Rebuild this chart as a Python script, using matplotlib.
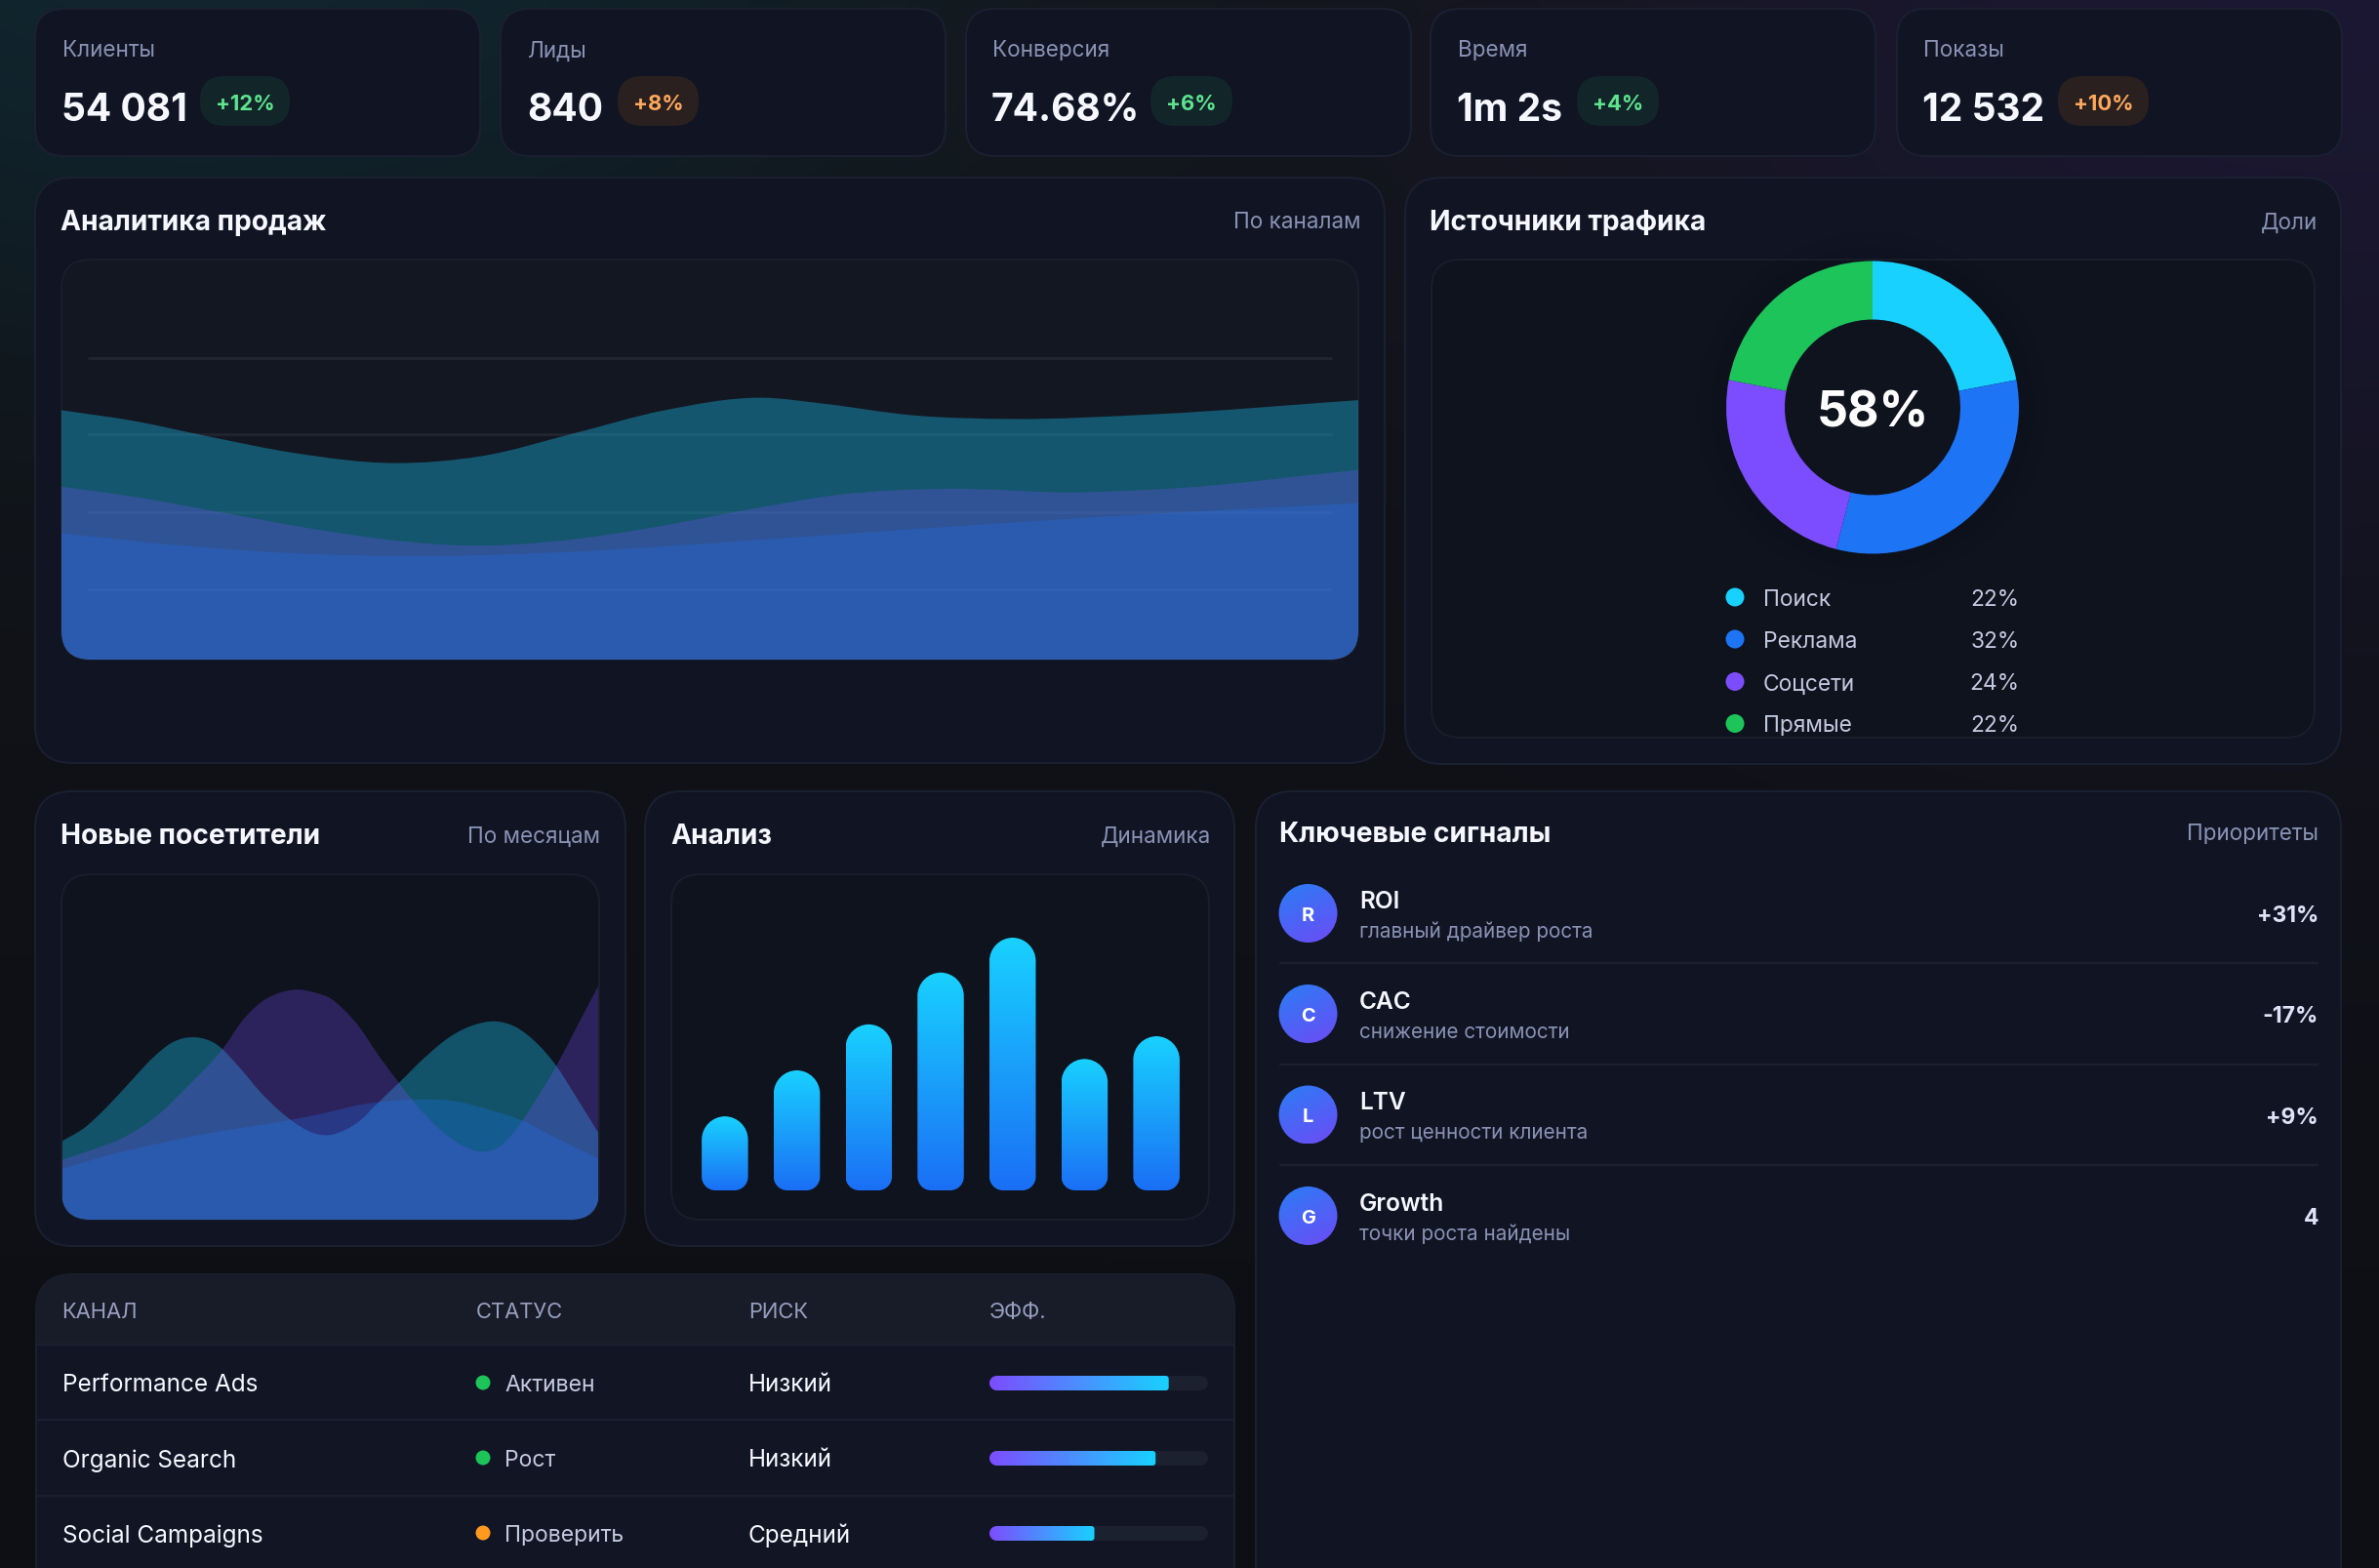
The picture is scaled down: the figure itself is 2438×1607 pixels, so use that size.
import numpy as np
import matplotlib
matplotlib.use("Agg")
import matplotlib.pyplot as plt
from matplotlib.colors import to_rgb
from matplotlib.patches import FancyBboxPatch, PathPatch, Circle
from matplotlib.path import Path

W, H = 2438, 1608

plt.rcParams["font.family"] = ["Inter", "Roboto", "DejaVu Sans"]

TEAL = "#18d1ff"
BLUE = "#1d74f5"
PURPLE = "#7c4dff"
GREEN = "#1cc45a"
ORANGE = "#ff9a1f"
CARD = "#101423"
BORDER = "#1b2031"
WHITE = "#f6f7ff"
MUTED = "#8a92b4"
SOFT = "#c3c9df"

# kpi row
kpi_labels = ["Клиенты", "Лиды", "Конверсия", "Время", "Показы"]
kpi_values = ["54 081", "840", "74.68%", "1m 2s", "12 532"]
kpi_deltas = ["+12%", "+8%", "+6%", "+4%", "+10%"]
kpi_delta_good = [True, False, True, True, False]

# sales chart, percent of plot width / height
sales_x_teal = [0, 5.6, 11.1, 18, 25.6, 32.5, 39.5, 46.4, 54, 58.8, 65.7, 73.3, 84.4, 100]
sales_teal = [62.2, 59.5, 55.8, 51.5, 49, 50.8, 56.4, 62.1, 65.3, 63.8, 60.9, 60, 61.2, 64.7]
sales_x_purple = [0, 5.6, 12.5, 19.4, 26.3, 31.8, 38.1, 45, 52.6, 60.2, 67.8, 78.2, 85.8, 100]
sales_purple = [43.1, 40.6, 36.6, 32.6, 29.5, 28.4, 29.5, 32.6, 37.2, 41.2, 42.6, 41.7, 42.7, 47.3]
sales_x_blue = [0, 9, 19.4, 28.4, 38.1, 54, 67.8, 85, 100]
sales_blue = [31.5, 28.5, 26.3, 25.8, 26.7, 29.9, 33, 36.5, 39]
sales_grid = [75.3, 56.1, 36.8, 17.6]

# traffic donut
traffic_labels = ["Поиск", "Реклама", "Соцсети", "Прямые"]
traffic_shares = [22, 32, 24, 22]
traffic_colors = [TEAL, BLUE, PURPLE, GREEN]

# new visitors chart
vis_x_teal = [0, 4.1, 8.4, 12.6, 16.9, 20.5, 24.8, 28.4, 33.3, 36.9, 40.6, 43.3, 46.6, 49.8, 52.4, 55.4,
              58.5, 62.8, 67.6, 72.4, 76.7, 80.9, 84.6, 88.2, 92.2, 95.5, 100]
vis_teal = [22.8, 26.6, 32.8, 39.8, 46.9, 51.3, 52.8, 51.1, 43.6, 37, 31.4, 28.1, 25.2, 24.5, 25.7, 28.5,
            33.2, 39.6, 46.9, 53, 56.3, 57.4, 55.8, 51.6, 44.5, 36.5, 25.2]
vis_x_purple = [0, 5.3, 11.4, 17.5, 23.6, 29.9, 33.9, 37.5, 40.6, 43.9, 47.2, 50.3, 52.4, 55.4, 58.5, 62.8,
                69.4, 73.6, 77.9, 81.5, 85.8, 88.8, 92.2, 96.1, 100]
vis_purple = [17.4, 20.1, 23.8, 29.9, 38.9, 49.4, 58.2, 63.4, 65.7, 66.6, 65.7, 63.8, 61, 55.8, 48.7, 39.6,
              27.6, 22.4, 19.7, 21, 28.5, 35.8, 44.5, 56.1, 67.6]
vis_x_blue = [0, 8.4, 17.5, 26.6, 35.7, 43, 49.4, 55.4, 61.5, 67, 73.6, 79.7, 85.8, 91.9, 100]
vis_blue = [14.7, 18.6, 21.9, 24.8, 27.1, 29, 31, 33.2, 34.4, 34.8, 34.2, 31.8, 28.7, 23.8, 17.7]

# analysis bars
analysis_values = [29.3, 47.5, 65.7, 86.2, 100, 52, 61]

# channels table
table_headers = ["КАНАЛ", "СТАТУС", "РИСК", "ЭФФ."]
channels = ["Performance Ads", "Organic Search", "Social Campaigns"]
statuses = ["Активен", "Рост", "Проверить"]
status_colors = [GREEN, GREEN, ORANGE]
risks = ["Низкий", "Низкий", "Средний"]
efficiency = [82, 76, 48]

# signals list
signal_names = ["ROI", "CAC", "LTV", "Growth"]
signal_notes = ["главный драйвер роста", "снижение стоимости", "рост ценности клиента", "точки роста найдены"]
signal_values = ["+31%", "-17%", "+9%", "4"]


def fs(px):
    return px * 0.72


def px_axes(l, t, r, b):
    a = fig.add_axes([l / W, 1 - b / H, (r - l) / W, (b - t) / H])
    a.axis("off")
    a.patch.set_alpha(0)
    return a


def panel(l, t, r, b, rad, color=CARD, edge=BORDER, lw=2.0):
    p = FancyBboxPatch((l, t), r - l, b - t, boxstyle=f"round,pad=0,rounding_size={rad}",
                       fc=color, ec=edge, lw=fs(lw), zorder=2)
    ax.add_patch(p)
    return p


def label(x, y, s, px, color=WHITE, weight="normal", ha="left", **kw):
    return ax.text(x, y, s, fontsize=fs(px), color=color, fontweight=weight, ha=ha,
                   va="center_baseline", zorder=6, **kw)


def smooth_area(x, y):
    # cubic segments with slopes taken across neighbours, closed along the baseline
    x = np.asarray(x, float)
    y = np.asarray(y, float)
    slopes = np.gradient(y, x)
    verts = [(x[0], 0), (x[0], y[0])]
    codes = [Path.MOVETO, Path.LINETO]
    for i in range(len(x) - 1):
        dx = x[i + 1] - x[i]
        verts += [(x[i] + dx / 3, y[i] + slopes[i] * dx / 3),
                  (x[i + 1] - dx / 3, y[i + 1] - slopes[i + 1] * dx / 3),
                  (x[i + 1], y[i + 1])]
        codes += [Path.CURVE4] * 3
    verts += [(x[-1], 0), (x[0], 0)]
    codes += [Path.LINETO, Path.CLOSEPOLY]
    return Path(verts, codes)


def round_rect(x0, x1, y0, y1, tl, tr, br, bl):
    # y0 is the smaller value, each corner given as (rx, ry)
    k = 0.5523
    v = [(x0 + tl[0], y1), (x1 - tr[0], y1),
         (x1 - tr[0] * (1 - k), y1), (x1, y1 - tr[1] * (1 - k)), (x1, y1 - tr[1]),
         (x1, y0 + br[1]),
         (x1, y0 + br[1] * (1 - k)), (x1 - br[0] * (1 - k), y0), (x1 - br[0], y0),
         (x0 + bl[0], y0),
         (x0 + bl[0] * (1 - k), y0), (x0, y0 + bl[1] * (1 - k)), (x0, y0 + bl[1]),
         (x0, y1 - tl[1]),
         (x0, y1 - tl[1] * (1 - k)), (x0 + tl[0] * (1 - k), y1), (x0 + tl[0], y1),
         (x0 + tl[0], y1)]
    c = [Path.MOVETO, Path.LINETO] + [Path.CURVE4] * 3 + [Path.LINETO] + [Path.CURVE4] * 3 + \
        [Path.LINETO] + [Path.CURVE4] * 3 + [Path.LINETO] + [Path.CURVE4] * 3 + [Path.CLOSEPOLY]
    return Path(v, c)


def gradient(c0, c1, nx, ny, dx, dy):
    # rgb ramp from c0 to c1 along direction (dx, dy)
    xx, yy = np.meshgrid(np.linspace(0, 1, nx), np.linspace(0, 1, ny))
    t = (xx * dx + yy * dy) / (dx + dy)
    a, b = np.array(to_rgb(c0)), np.array(to_rgb(c1))
    return a + (b - a) * t[..., None]


def background():
    yy, xx = np.mgrid[0:H:4, 0:W:4]
    t = np.clip(yy / H, 0, 1)[..., None]
    mid = np.array(to_rgb("#131418"))
    base = mid * (1 - t) + np.array(to_rgb("#0d0f15")) * t
    teal = np.exp(-(((xx - 200) / 750) ** 2 + ((yy + 60) / 420) ** 2))[..., None]
    purple = np.exp(-(((xx - 2400) / 800) ** 2 + ((yy + 40) / 620) ** 2))[..., None]
    base = base + teal * (np.array(to_rgb("#10262f")) - mid)
    base = base + purple * (np.array(to_rgb("#1c1833")) - mid)
    return np.clip(base, 0, 1)


def draw_areas(a, clip, teal, purple, blue):
    for (x, y), color, alpha in zip((teal, purple, blue), (TEAL, PURPLE, BLUE), (0.34, 0.28, 0.27)):
        p = PathPatch(smooth_area(x, y), fc=color, ec="none", alpha=alpha, zorder=3)
        a.add_patch(p)
        p.set_clip_path(clip)


fig = plt.figure(figsize=(W / 100, H / 100), dpi=100)
ax = fig.add_axes([0, 0, 1, 1])
ax.set_xlim(0, W)
ax.set_ylim(H, 0)
ax.axis("off")
ax.imshow(background(), extent=(0, W, H, 0), aspect="auto", zorder=0, interpolation="bilinear")

# kpi cards
card_lefts = [36, 513, 990, 1466, 1944]
value_lefts = [64, 541, 1017, 1494, 1971]
badge_spans = [(205, 297), (633, 716), (1179, 1263), (1616, 1700), (2109, 2202)]
for i in range(5):
    panel(card_lefts[i], 10, card_lefts[i] + 456, 161, 30)
    label(value_lefts[i], 50, kpi_labels[i], 22.5, MUTED)
    label(value_lefts[i] - 1, 109, kpi_values[i], 39, WHITE, "bold")
    b0, b1 = badge_spans[i]
    good = kpi_delta_good[i]
    ax.add_patch(FancyBboxPatch((b0, 79), b1 - b0, 51, boxstyle="round,pad=0,rounding_size=25",
                                fc="#12262a" if good else "#2a201f", ec="none", zorder=3))
    label((b0 + b1) / 2, 105, kpi_deltas[i], 22, "#5fe38f" if good else "#ffa95c", "bold", ha="center")

# sales panel
panel(36, 183, 1419, 783, 38)
label(62, 226, "Аналитика продаж", 28.2, WHITE, "bold")
label(1394, 226, "По каналам", 22.5, MUTED, ha="right")
sales_box = panel(63, 267, 1392, 677, 30, "#131722", "#1a1e2b")
ax_sales = px_axes(63, 266, 1392, 677)
ax_sales.set_xlim(0, 100)
ax_sales.set_ylim(0, 100)
ax_sales.hlines(sales_grid, 2, 98, color="#ffffff", alpha=0.06, lw=fs(3), zorder=2)
draw_areas(ax_sales, sales_box, (sales_x_teal, sales_teal), (sales_x_purple, sales_purple),
           (sales_x_blue, sales_blue))

# traffic panel
panel(1440, 183, 2399, 784, 38)
label(1465, 226, "Источники трафика", 28.2, WHITE, "bold")
label(2375, 226, "Доли", 22.5, MUTED, ha="right")
traffic_box = panel(1467, 267, 2372, 757, 30, "#0f131e", "#1a1e2b")
# faint shadow ring under the donut, the hole stays at the box colour
ax.add_patch(Circle((1919, 418.5), 180, fc="#000000", ec="none", alpha=0.01, zorder=3))
ax.add_patch(Circle((1919, 418.5), 165, fc="#000000", ec="none", alpha=0.01, zorder=3))
ax.add_patch(Circle((1919, 418.5), 90, fc="#0f131e", ec="none", zorder=3))
ax_pie = px_axes(1769, 268.5, 2069, 568.5)
ax_pie.pie(traffic_shares, colors=traffic_colors, startangle=90, counterclock=False, radius=1,
           wedgeprops={"width": 0.4, "linewidth": 0})
ax_pie.set_xlim(-1, 1)
ax_pie.set_ylim(-1, 1)
ax_pie.text(0, 0, "58%", fontsize=fs(50), fontweight="bold", color="white", ha="center", va="center_baseline")
legend_ys = [613, 656, 699.5, 742.5]
for name, share, color, y in zip(traffic_labels, traffic_shares, traffic_colors, legend_ys):
    ax.add_patch(Circle((1778, y), 9.5, fc=color, ec="none", zorder=5))
    t1 = label(1807, y - 0.5, name, 22.8, SOFT)
    t2 = label(2069.5, y - 0.5, f"{share}%", 22.8, SOFT, ha="right")
    t1.set_clip_path(traffic_box)
    t2.set_clip_path(traffic_box)

# new visitors panel
panel(36, 812, 641, 1278, 38)
label(62, 855, "Новые посетители", 28.2, WHITE, "bold")
label(615, 855, "По месяцам", 22.5, MUTED, ha="right")
vis_box = panel(63, 897, 614, 1251, 30, "#0f131e", "#1a1e2b")
ax_vis = px_axes(64, 897, 613, 1251)
ax_vis.set_xlim(0, 100)
ax_vis.set_ylim(0, 100)
draw_areas(ax_vis, vis_box, (vis_x_teal, vis_teal), (vis_x_purple, vis_purple), (vis_x_blue, vis_blue))

# analysis panel
panel(661, 812, 1265, 1278, 38)
label(687, 855, "Анализ", 28.2, WHITE, "bold")
label(1241, 855, "Динамика", 22.5, MUTED, ha="right")
analysis_box = panel(688, 897, 1239, 1251, 30, "#0f131e", "#1a1e2b")
ax_bar = px_axes(706, 962, 1222, 1221)
ax_bar.set_xlim(-0.5, 6.5)
ax_bar.set_ylim(0, 100)
unit_x = (1222 - 706) / 7
unit_y = (1221 - 962) / 100
bar_w = 47.5 / unit_x
for i, v in enumerate(analysis_values):
    x0, x1 = i - bar_w / 2, i + bar_w / 2
    # soft glow behind each bar
    for g in range(10):
        pad = 4 + g * 4
        glow = round_rect(x0 - pad / unit_x, x1 + pad / unit_x, -pad / unit_y, v + pad / unit_y,
                          *[((24 + pad) / unit_x, (24 + pad) / unit_y)] * 4)
        ax_bar.add_patch(PathPatch(glow, fc=BLUE, ec="none", alpha=0.0042, zorder=1, clip_on=False))
    top = (24 / unit_x, 24 / unit_y)
    bot = (14 / unit_x, 14 / unit_y)
    shape = round_rect(x0, x1, 0, v, top, top, bot, bot)
    im = ax_bar.imshow(gradient(TEAL, "#1b6ff5", 2, 128, 0, 1), extent=(x0, x1, 0, v), aspect="auto",
                       zorder=3, interpolation="bilinear")
    im.set_clip_path(shape, ax_bar.transData)
ax_bar.set_xlim(-0.5, 6.5)
ax_bar.set_ylim(0, 100)

# channels table
table_panel = panel(37, 1307, 1265, 1720, 38, "#111524")
head = ax.fill_between([37, 1265], 1307, 1379, color="#181c29", lw=0, zorder=3)
head.set_clip_path(table_panel)
ax.hlines([1379, 1456, 1534], 37, 1265, color="#1b2031", lw=fs(2.5), zorder=4)
col_x = [63, 488, 767, 1014]
for x, s in zip(col_x, table_headers):
    label(x, 1343, s, 22, "#98a0bf")
row_ys = [1419, 1496, 1573]
for i, y in enumerate(row_ys):
    label(col_x[0] + 1, y - 1.5, channels[i], 24.3, WHITE)
    ax.add_patch(Circle((495, y - 1), 7.5, fc=status_colors[i], ec="none", zorder=5))
    label(517, y - 1.5, statuses[i], 23, SOFT)
    label(col_x[2], y - 1.5, risks[i], 24.3, WHITE)

ax_eff = px_axes(1014, 1379, 1238, 1608)
ax_eff.set_xlim(0, 100)
ax_eff.set_ylim(1608, 1379)
ux = 224 / 100
for y, v in zip(row_ys, efficiency):
    y0, y1 = y - 8, y + 7
    r = (7.5 / ux, 7.5)
    s = (3 / ux, 3)
    ax_eff.add_patch(PathPatch(round_rect(0, 100, y0, y1, r, r, r, r), fc="#1c2130", ec="none", zorder=1))
    im = ax_eff.imshow(gradient(PURPLE, TEAL, 128, 2, 1, 0), extent=(0, v, y1, y0), aspect="auto",
                       zorder=2, interpolation="bilinear")
    im.set_clip_path(round_rect(0, v, y0, y1, r, s, s, r), ax_eff.transData)
ax_eff.set_xlim(0, 100)
ax_eff.set_ylim(1608, 1379)

# signals panel
panel(1287, 812, 2399, 1720, 38)
label(1311, 853, "Ключевые сигналы", 28.2, WHITE, "bold")
label(2376, 853, "Приоритеты", 22.5, MUTED, ha="right")
avatar_ys = [937, 1040, 1143.5, 1247]
for i, y in enumerate(avatar_ys):
    circ = Circle((1340.5, y), 30, fc="none", ec="none", zorder=4)
    ax.add_patch(circ)
    im = ax.imshow(gradient("#2a7df6", "#6d4bf5", 64, 64, 0.5, 1), extent=(1310, 1371, y + 30, y - 30),
                   aspect="auto", zorder=4, interpolation="bilinear")
    im.set_clip_path(circ)
    label(1340.5, y, signal_names[i][0], 20, "white", "bold", ha="center")
    label(1393, y - 15, signal_names[i], 24.5, WHITE, "semibold")
    label(1393, y + 16, signal_notes[i], 20.7, MUTED)
    label(2376, y, signal_values[i], 23, "#dfe3f7", "bold", ha="right")
ax.hlines([988, 1091.5, 1195], 1311, 2376, color="#1b2031", lw=fs(2.5), zorder=4)

fig.savefig("out.png", dpi=100, facecolor="#0e1016")
